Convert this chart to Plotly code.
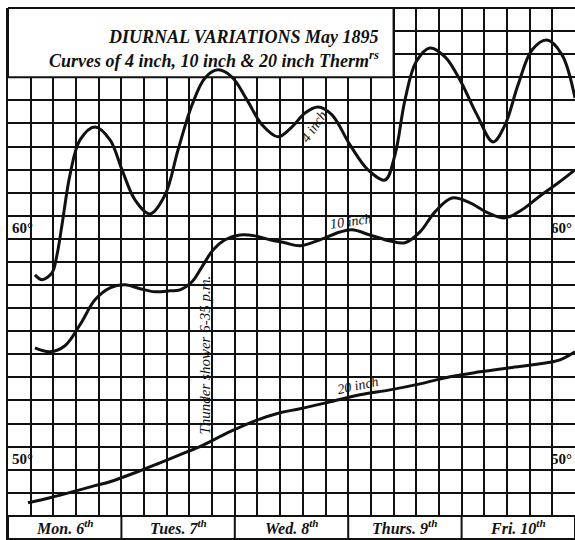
import plotly.graph_objects as go

# Hours since Monday 00:00, temperature in degrees F
four_inch_hours = [5.71, 7.20, 9.31, 10.37, 11.43, 13.12, 15.24, 18.41, 21.59, 24.13, 26.88, 30.05,
                   33.23, 35.98, 38.94, 41.69, 44.44, 47.41, 50.58, 53.76, 57.14, 60.11, 62.86,
                   65.61, 68.57, 72.38, 76.19, 79.79, 81.90, 84.02, 86.35, 89.31, 92.49, 95.66,
                   99.26, 102.65, 105.19, 107.94, 110.90, 114.07, 117.25, 120.0]
four_inch_temps = [58.44, 58.23, 58.53, 59.31, 60.61, 62.77, 64.29, 64.85, 64.29, 62.99, 61.69, 61.08,
                   61.90, 63.85, 65.80, 66.97, 67.32, 67.01, 66.02, 64.94, 64.42, 64.85, 65.45,
                   65.71, 65.37, 64.07, 62.99, 62.55, 63.64, 66.02, 67.66, 68.27, 67.88, 66.88,
                   65.37, 64.20, 64.94, 66.67, 68.18, 68.61, 67.97, 66.10]

ten_inch_hours = [5.71, 8.89, 12.06, 15.24, 18.41, 21.59, 24.76, 27.94, 31.11, 34.29, 36.40, 38.94,
                  41.06, 43.39, 45.93, 49.10, 52.28, 55.45, 58.62, 61.80, 66.03, 70.26, 72.80,
                  76.61, 80.85, 84.02, 87.20, 90.37, 93.97, 97.78, 101.59, 105.19, 108.78,
                  112.59, 116.40, 120.0]
ten_inch_temps = [55.28, 55.11, 55.37, 56.28, 57.36, 57.88, 58.01, 57.84, 57.71, 57.75, 57.79, 58.14,
                  58.79, 59.52, 59.96, 60.17, 60.13, 59.96, 59.83, 59.70, 59.96, 60.30, 60.39,
                  60.17, 59.91, 59.83, 60.30, 61.17, 61.77, 61.56, 61.13, 60.91, 61.26,
                  61.86, 62.42, 62.99]

twenty_inch_hours = [4.23, 8.89, 13.76, 18.41, 21.59, 26.88, 32.17, 37.46, 40.63, 46.98, 52.28,
                     57.57, 61.80, 68.15, 74.50, 80.85, 87.20, 93.55, 99.89, 106.24, 112.59,
                     116.82, 120.0]
twenty_inch_temps = [48.57, 48.79, 49.05, 49.31, 49.48, 49.87, 50.30, 50.74, 51.00, 51.65, 52.12,
                     52.47, 52.64, 52.94, 53.25, 53.46, 53.72, 54.03, 54.24, 54.42, 54.59,
                     54.76, 55.11]

day_labels = ["Mon. 6<sup>th</sup>", "Tues. 7<sup>th</sup>", "Wed. 8<sup>th</sup>",
              "Thurs. 9<sup>th</sup>", "Fri. 10<sup>th</sup>"]
degree_ticks = [60, 50]

SERIF = "Liberation Serif"
INK = "#111111"

fig = go.Figure()
for xs, ys in [(four_inch_hours, four_inch_temps),
               (ten_inch_hours, ten_inch_temps),
               (twenty_inch_hours, twenty_inch_temps)]:
    fig.add_trace(go.Scatter(x=xs, y=ys, mode="lines",
                             line=dict(color=INK, width=3, shape="spline", smoothing=1.0),
                             hoverinfo="skip", showlegend=False))

shapes = []
# title panel in the upper-left corner
shapes.append(dict(type="rect", xref="x", yref="y", x0=0, x1=81.6, y0=67, y1=70,
                   fillcolor="white", line=dict(color=INK, width=2), layer="between"))
# day strip along the bottom
shapes.append(dict(type="rect", xref="x", yref="y", x0=0, x1=120, y0=47, y1=48,
                   fillcolor="white", line=dict(color=INK, width=2), layer="between"))
for d in range(1, 5):
    shapes.append(dict(type="line", xref="x", yref="y", x0=24 * d, x1=24 * d, y0=47, y1=48,
                       line=dict(color=INK, width=2), layer="between"))
# top frame line
shapes.append(dict(type="line", xref="paper", yref="paper", x0=0, x1=1, y0=1, y1=1,
                   line=dict(color=INK, width=2)))

annotations = []
annotations.append(dict(x=49.9, y=68.75, xref="x", yref="y", showarrow=False,
                        text="<b><i>DIURNAL VARIATIONS May 1895</i></b>",
                        font=dict(family=SERIF, size=18, color=INK)))
annotations.append(dict(x=43.6, y=67.75, xref="x", yref="y", showarrow=False,
                        text="<b><i>Curves of 4 inch, 10 inch &amp; 20 inch Therm<sup>rs</sup></i></b>",
                        font=dict(family=SERIF, size=18, color=INK)))
for i, lab in enumerate(day_labels):
    annotations.append(dict(x=12 + 24 * i, y=47.5, xref="x", yref="y", showarrow=False,
                            text="<b><i>" + lab + "</i></b>",
                            font=dict(family=SERIF, size=16, color=INK)))
for t in degree_ticks:
    annotations.append(dict(x=0.4, y=t + 0.45, xref="x", yref="y", showarrow=False,
                            xanchor="left", text="<b>%d°</b>" % t,
                            font=dict(family=SERIF, size=15, color=INK)))
    annotations.append(dict(x=119.8, y=t + 0.45, xref="x", yref="y", showarrow=False,
                            xanchor="right", text="<b>%d°</b>" % t,
                            font=dict(family=SERIF, size=15, color=INK)))
# curve captions
annotations.append(dict(x=64.8, y=64.85, xref="x", yref="y", showarrow=False, textangle=-55,
                        text="<i>4 inch</i>", font=dict(family=SERIF, size=14, color=INK)))
annotations.append(dict(x=72.5, y=60.75, xref="x", yref="y", showarrow=False, textangle=-8,
                        text="<i>10 inch</i>", font=dict(family=SERIF, size=14, color=INK)))
annotations.append(dict(x=74.0, y=53.65, xref="x", yref="y", showarrow=False, textangle=-12,
                        text="<i>20 inch</i>", font=dict(family=SERIF, size=14, color=INK)))
annotations.append(dict(x=41.7, y=54.95, xref="x", yref="y", showarrow=False, textangle=-90,
                        text="<i>Thunder shower 6-35 p.m.</i>",
                        font=dict(family=SERIF, size=15, color=INK)))

fig.update_layout(
    width=575, height=540,
    margin=dict(l=8, r=0, t=8, b=1),
    paper_bgcolor="white", plot_bgcolor="white",
    shapes=shapes, annotations=annotations,
    xaxis=dict(range=[0, 120], tick0=0, dtick=4.8, showgrid=True, gridcolor=INK, gridwidth=2,
               showticklabels=False, ticks="", zeroline=False, showline=True,
               linecolor=INK, linewidth=2, mirror=False, fixedrange=True),
    yaxis=dict(range=[47, 70], tick0=47, dtick=1, showgrid=True, gridcolor=INK, gridwidth=2,
               showticklabels=False, ticks="", zeroline=False, showline=True,
               linecolor=INK, linewidth=2, mirror=False, fixedrange=True),
)

fig.write_html("out.html")
